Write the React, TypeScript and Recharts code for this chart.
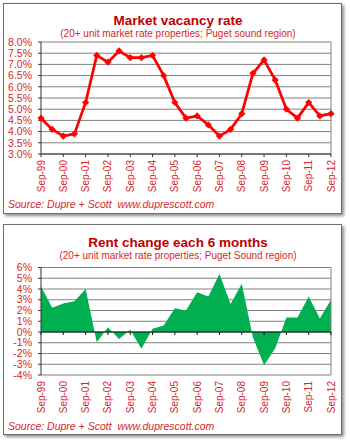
import { LineChart, Line, AreaChart, Area, XAxis, YAxis, CartesianGrid, ReferenceLine } from "recharts";

const periods = [
  "Sep-99", "Mar-00", "Sep-00", "Mar-01", "Sep-01", "Mar-02", "Sep-02", "Mar-03", "Sep-03",
  "Mar-04", "Sep-04", "Mar-05", "Sep-05", "Mar-06", "Sep-06", "Mar-07", "Sep-07", "Mar-08",
  "Sep-08", "Mar-09", "Sep-09", "Mar-10", "Sep-10", "Mar-11", "Sep-11", "Mar-12", "Sep-12",
];

// market vacancy rate, %
const vacancy = [
  4.6, 4.1, 3.8, 3.9, 5.3, 7.4, 7.1, 7.6, 7.3, 7.3, 7.4, 6.5, 5.3, 4.6,
  4.7, 4.3, 3.8, 4.1, 4.8, 6.6, 7.2, 6.3, 5.0, 4.6, 5.3, 4.7, 4.8,
];

// rent change each 6 months, %
const rentChange = [
  4.25, 2.25, 2.65, 2.85, 4.0, -0.95, 0.45, -0.65, 0.2, -1.55, 0.3, 0.6, 2.2, 2.0,
  3.7, 3.3, 5.4, 2.6, 4.5, -0.5, -3.1, -1.5, 1.35, 1.35, 3.3, 1.25, 3.0,
];

const vacancyTicks = [3, 3.5, 4, 4.5, 5, 5.5, 6, 6.5, 7, 7.5, 8];
const rentTicks = [-4, -3, -2, -1, 0, 1, 2, 3, 4, 5, 6];

const vacancyData = periods.map((p, i) => ({ period: p, value: vacancy[i] }));
const rentData = periods.map((p, i) => ({ period: p, value: rentChange[i] }));
const septembers = periods.filter((p) => p.startsWith("Sep"));

const FONT = "'Liberation Sans', Arial, sans-serif";
const TICK_RED = "#d8262a";
const TITLE_RED = "#c00000";
const GRID = "#808080";

function RotatedTick(props: any) {
  const { x, y, payload } = props;
  return (
    <text
      x={x}
      y={y}
      transform={`rotate(-90, ${x}, ${y})`}
      textAnchor="end"
      dy="0.35em"
      fill={TICK_RED}
      fontSize={10}
      fontFamily={FONT}
    >
      {payload.value}
    </text>
  );
}

function Diamond(props: any) {
  const { cx, cy } = props;
  if (cx == null || cy == null) return null;
  const r = 3.6;
  return (
    <polygon
      points={`${cx},${cy - r} ${cx + r},${cy} ${cx},${cy + r} ${cx - r},${cy}`}
      fill="#ff0000"
    />
  );
}

function Panel({ top }: { top: number }) {
  return (
    <div
      style={{
        position: "absolute",
        left: 3,
        top,
        width: 339,
        height: 211,
        boxSizing: "border-box",
        border: "1px solid #6e6e6e",
        background: "#fff",
        boxShadow: "2px 2px 3px rgba(0,0,0,0.45)",
      }}
    />
  );
}

function Titles({ top, title, subtitle }: { top: number; title: string; subtitle: string }) {
  return (
    <>
      <div
        style={{
          position: "absolute", left: 28, width: 300, top: top + 13, textAlign: "center",
          fontSize: 13.5, lineHeight: "15px", fontWeight: "bold", color: TITLE_RED, fontFamily: FONT,
        }}
      >
        {title}
      </div>
      <div
        style={{
          position: "absolute", left: 28, width: 300, top: top + 28, textAlign: "center",
          fontSize: 10, lineHeight: "12px", color: TICK_RED, fontFamily: FONT, whiteSpace: "nowrap",
        }}
      >
        {subtitle}
      </div>
      <div
        style={{
          position: "absolute", left: 8, top: top + 198, fontSize: 10.5, lineHeight: "12px",
          fontStyle: "italic", color: TICK_RED, fontFamily: FONT, whiteSpace: "pre",
        }}
      >
        {"Source: Dupre + Scott  www.duprescott.com"}
      </div>
    </>
  );
}

export default function App() {
  return (
    <div style={{ position: "absolute", left: 0, top: 0, width: 350, height: 444, background: "#fff" }}>
      <Panel top={3} />
      <Panel top={224} />

      <div style={{ position: "absolute", left: 0, top: 0 }}>
        <LineChart width={350} height={215} data={vacancyData} margin={{ top: 42, right: 19, left: 0, bottom: 16 }}>
          <CartesianGrid horizontal vertical={false} stroke={GRID} />
          <XAxis
            dataKey="period"
            interval={1}
            height={45}
            tick={<RotatedTick />}
            tickSize={3}
            tickMargin={3}
            stroke="#333"
          />
          <YAxis
            domain={[3, 8]}
            ticks={vacancyTicks}
            interval={0}
            width={41}
            tickSize={3}
            tickMargin={6}
            stroke="#333"
            tick={{ fill: TICK_RED, fontSize: 10.5, fontFamily: FONT }}
            tickFormatter={(v: number) => v.toFixed(1) + "%"}
          />
          <ReferenceLine x="Sep-12" stroke={GRID} />
          <Line
            type="linear"
            dataKey="value"
            stroke="#ff0000"
            strokeWidth={2.75}
            dot={<Diamond />}
            isAnimationActive={false}
          />
        </LineChart>
      </div>

      <div style={{ position: "absolute", left: 0, top: 222 }}>
        <AreaChart width={350} height={222} data={rentData} margin={{ top: 45.5, right: 19, left: 0, bottom: 24 }}>
          <CartesianGrid horizontal vertical={false} stroke={GRID} />
          <XAxis
            dataKey="period"
            interval={1}
            height={45}
            tick={<RotatedTick />}
            tickSize={3}
            tickMargin={3}
            tickLine={false}
            axisLine={false}
          />
          <YAxis
            domain={[-4, 6]}
            ticks={rentTicks}
            interval={0}
            width={41}
            tickSize={3}
            tickMargin={6}
            stroke="#333"
            tick={{ fill: TICK_RED, fontSize: 10.5, fontFamily: FONT }}
            tickFormatter={(v: number) => v + "%"}
          />
          <ReferenceLine x="Sep-12" stroke={GRID} />
          <Area
            type="linear"
            dataKey="value"
            fill="#00b050"
            fillOpacity={1}
            stroke="none"
            baseValue={0}
            isAnimationActive={false}
          />
          <ReferenceLine y={0} stroke="#111" strokeWidth={1.2} />
          {septembers.map((p) => (
            <ReferenceLine
              key={p}
              segment={[{ x: p, y: 0 }, { x: p, y: -0.28 }]}
              stroke="#111"
            />
          ))}
        </AreaChart>
      </div>

      <Titles top={0} title="Market vacancy rate" subtitle="(20+ unit market rate properties; Puget sound region)" />
      <Titles
        top={222}
        title="Rent change each 6 months"
        subtitle="(20+ unit market rate properties; Puget Sound region)"
      />
    </div>
  );
}
